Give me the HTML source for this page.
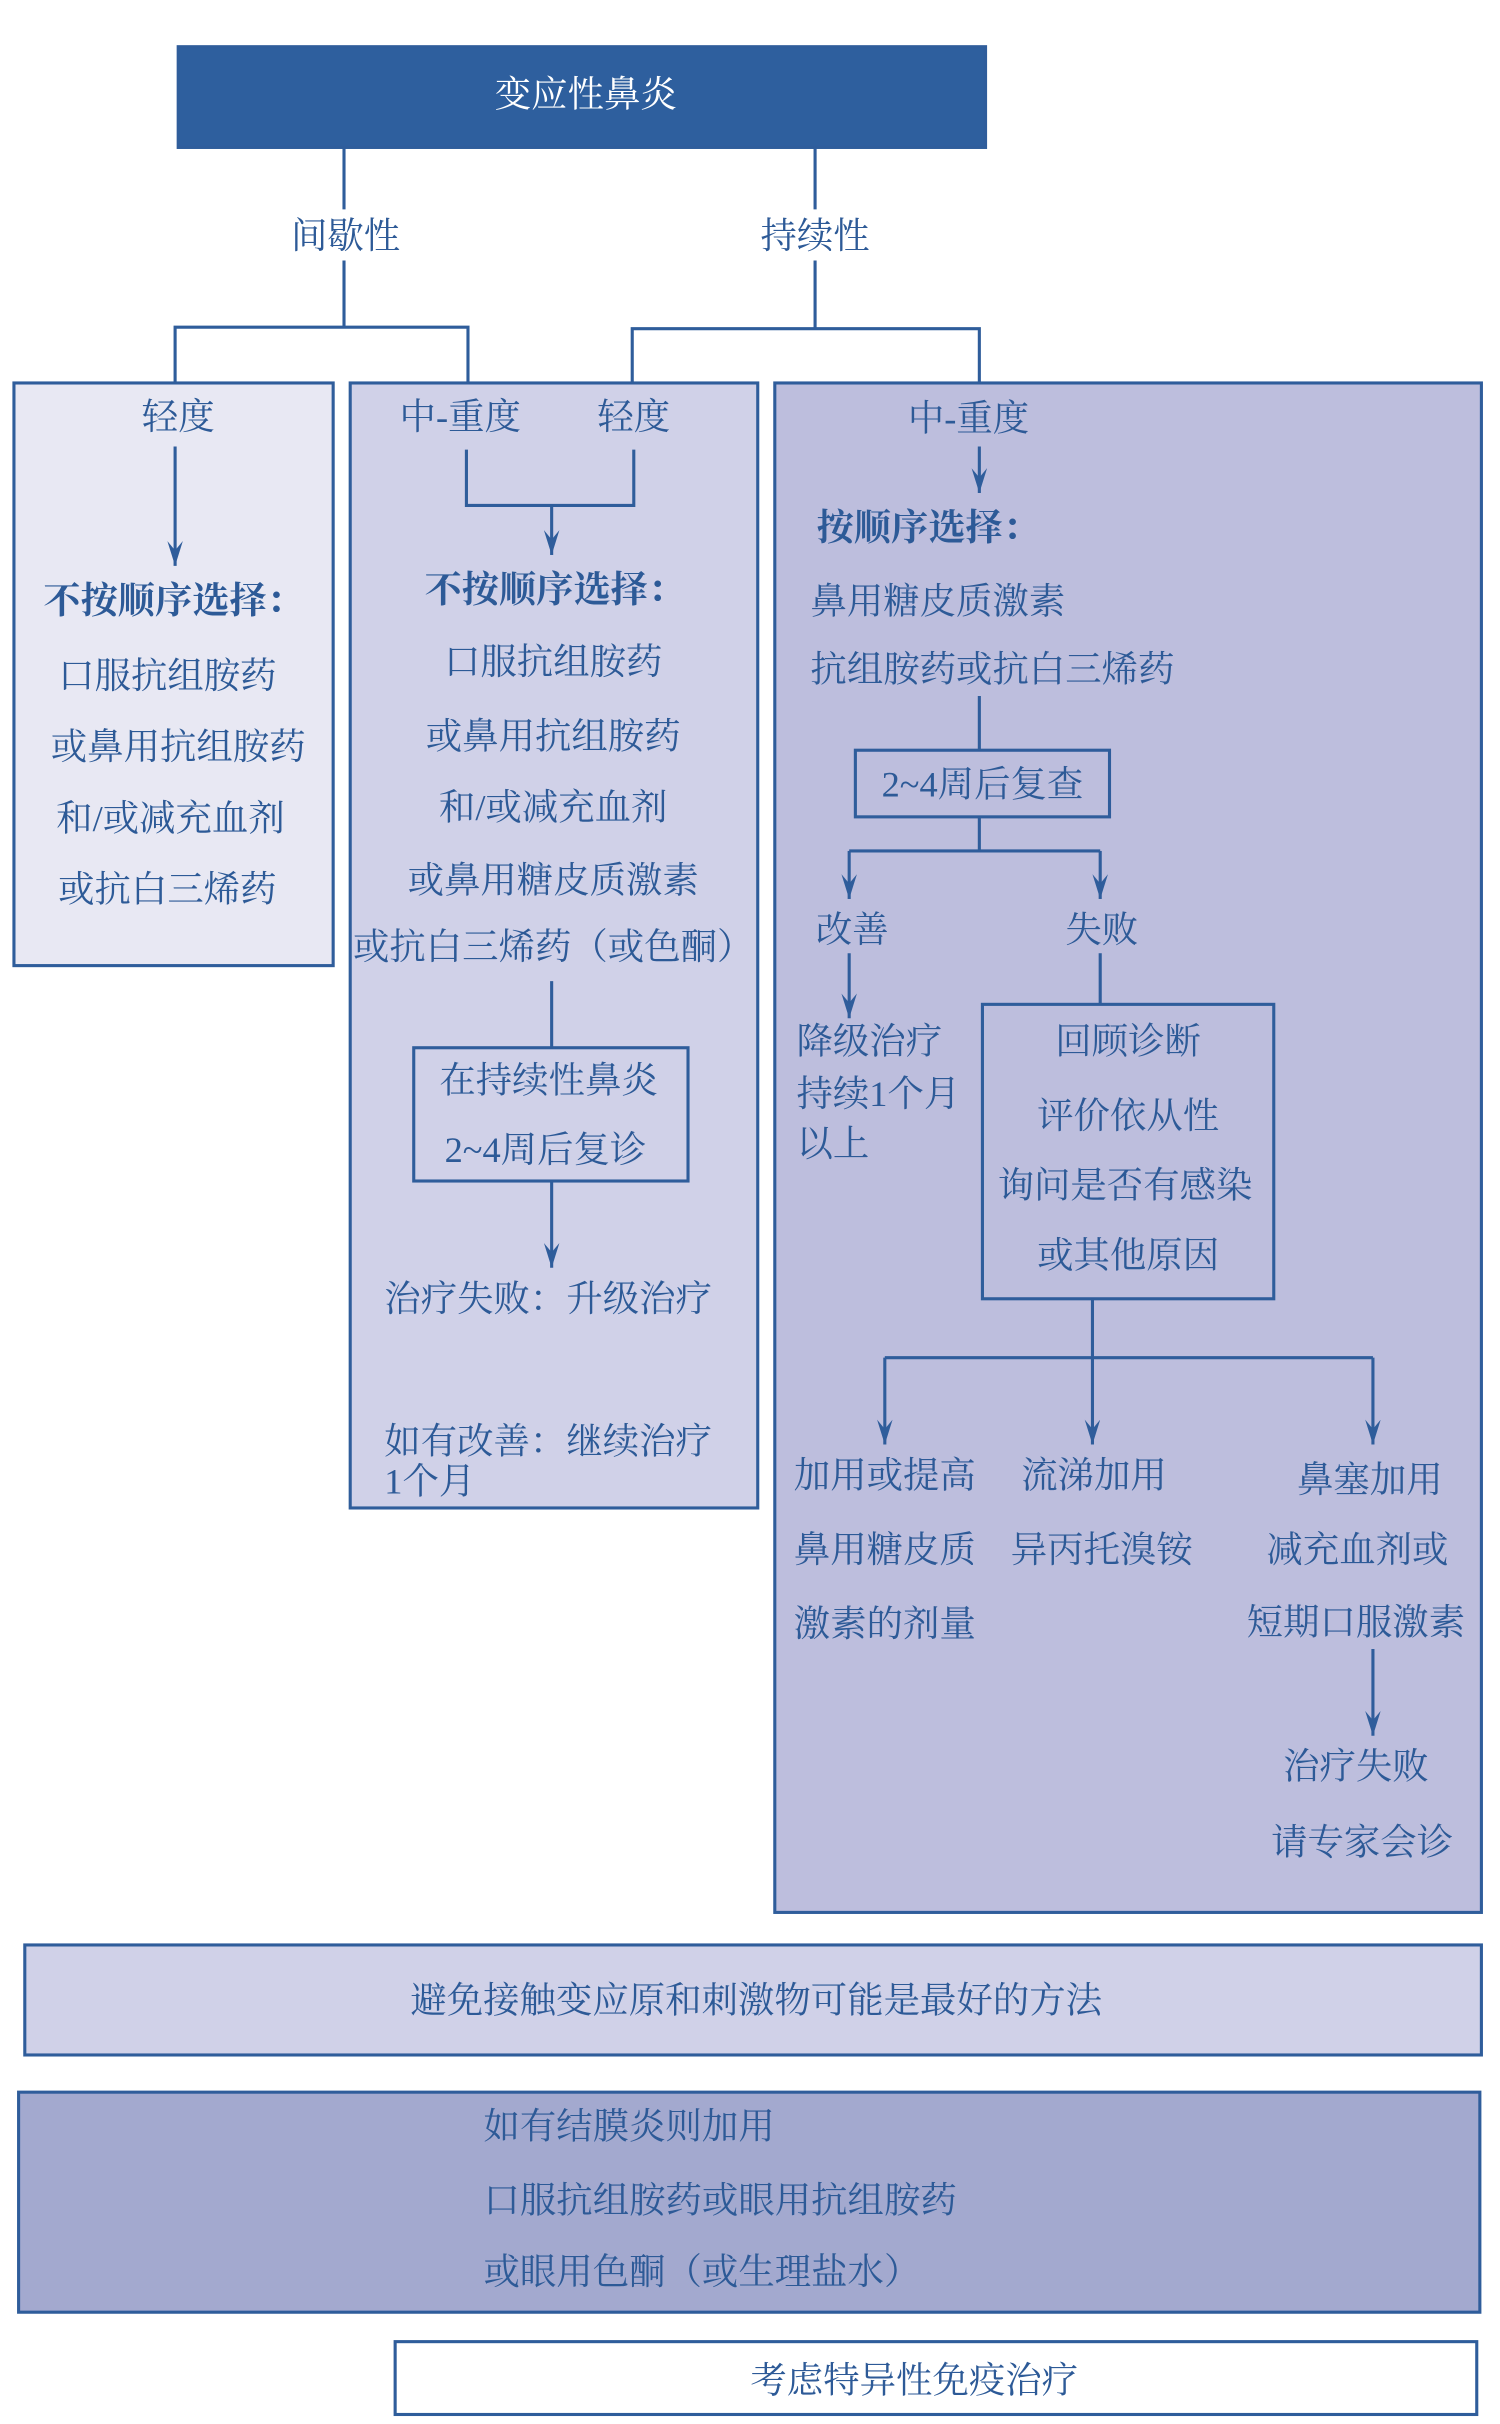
<!DOCTYPE html>
<html><head><meta charset="utf-8"><style>
html,body{margin:0;padding:0;background:#fff;}
svg{display:block;}
text{font-family:"Liberation Serif","Noto Serif CJK SC","Noto Sans CJK SC",serif;fill:#2d5a97;font-size:23.5px;dominant-baseline:central;}
.c{text-anchor:middle;}
.b{font-weight:bold;font-size:24px;}
</style></head><body>
<svg width="1500" height="2424" viewBox="0 0 968 1564" xmlns="http://www.w3.org/2000/svg">
<defs>
<marker id="d" markerWidth="10" markerHeight="16" refX="5" refY="16" markerUnits="userSpaceOnUse"><path d="M0,0 L5,16 L10,0 L5,6 Z" fill="#2f5d9b"/></marker></defs>
<g stroke="#2f5d9b" stroke-width="2" fill="none">
<rect x="115" y="30" width="521" height="65" fill="#2e5f9e"/>
<rect x="9" y="247" width="206" height="376" fill="#e8e8f3"/>
<rect x="226" y="247" width="263" height="726" fill="#d0d1e8"/>
<rect x="500" y="247" width="456" height="987" fill="#bdbedd"/>
<rect x="16" y="1255" width="940" height="71" fill="#d0d1e8"/>
<rect x="12" y="1350" width="943" height="142" fill="#a3a9cf"/>
<rect x="255" y="1511" width="698" height="47" fill="#fff"/>
<rect x="267" y="676" width="177" height="86"/>
<rect x="552" y="484" width="164" height="43"/>
<rect x="634" y="648" width="188" height="190"/>
<path d="M222 95V135M222 168V211M113 247V211H302V247"/>
<path d="M526 95V135M526 168V211M408 247V212H632V247"/>
<path d="M113 288V365" marker-end="url(#d)"/>
<path d="M301 290V326H409V290"/>
<path d="M356 326V358" marker-end="url(#d)"/>
<path d="M356 633V676"/>
<path d="M356 762V818" marker-end="url(#d)"/>
<path d="M632 288V318" marker-end="url(#d)"/>
<path d="M632 449V484M632 527V549M548 549H710"/>
<path d="M548 549V580" marker-end="url(#d)"/>
<path d="M710 549V580" marker-end="url(#d)"/>
<path d="M548 615V657" marker-end="url(#d)"/>
<path d="M710 615V648"/>
<path d="M705 838V876M571 876H886"/>
<path d="M571 876V932" marker-end="url(#d)"/>
<path d="M705 876V932" marker-end="url(#d)"/>
<path d="M886 876V932" marker-end="url(#d)"/>
<path d="M886 1064V1120" marker-end="url(#d)"/>
</g>
<text class="c" x="378" y="61" style="fill:#fff">变应性鼻炎</text>
<text class="c" x="223" y="152">间歇性</text>
<text class="c" x="526" y="152">持续性</text>
<text class="c" x="115" y="269">轻度</text>
<text class="c b" x="112" y="388">不按顺序选择：</text>
<text class="c" x="108" y="436">口服抗组胺药</text>
<text class="c" x="115" y="482">或鼻用抗组胺药</text>
<text class="c" x="110" y="528">和/或减充血剂</text>
<text class="c" x="108" y="574">或抗白三烯药</text>
<text class="c" x="297" y="269">中-重度</text>
<text class="c" x="409" y="269">轻度</text>
<text class="c b" x="358" y="381">不按顺序选择：</text>
<text class="c" x="357" y="427">口服抗组胺药</text>
<text class="c" x="357" y="475">或鼻用抗组胺药</text>
<text class="c" x="357" y="521">和/或减充血剂</text>
<text class="c" x="357" y="568">或鼻用糖皮质激素</text>
<text class="c" x="357" y="611">或抗白三烯药（或色酮）</text>
<text class="c" x="354" y="697">在持续性鼻炎</text>
<text class="c" x="352" y="742">2~4周后复诊</text>
<text x="248" y="838">治疗失败：升级治疗</text>
<text x="248" y="930">如有改善：继续治疗</text>
<text x="248" y="956">1个月</text>
<text class="c" x="625" y="270">中-重度</text>
<text class="b" x="527" y="341">按顺序选择：</text>
<text x="523" y="388">鼻用糖皮质激素</text>
<text x="523" y="432">抗组胺药或抗白三烯药</text>
<text class="c" x="634" y="506">2~4周后复查</text>
<text class="c" x="550" y="600">改善</text>
<text class="c" x="711" y="600">失败</text>
<text x="514" y="672">降级治疗</text>
<text x="514" y="706">持续1个月</text>
<text x="514" y="738">以上</text>
<text class="c" x="728" y="672">回顾诊断</text>
<text class="c" x="728" y="720">评价依从性</text>
<text class="c" x="726" y="765">询问是否有感染</text>
<text class="c" x="728" y="810">或其他原因</text>
<text class="c" x="571" y="952">加用或提高</text>
<text class="c" x="571" y="1000">鼻用糖皮质</text>
<text class="c" x="571" y="1048">激素的剂量</text>
<text class="c" x="706" y="952">流涕加用</text>
<text class="c" x="711" y="1000">异丙托溴铵</text>
<text class="c" x="884" y="955">鼻塞加用</text>
<text class="c" x="876" y="1000">减充血剂或</text>
<text class="c" x="875" y="1047">短期口服激素</text>
<text class="c" x="875" y="1140">治疗失败</text>
<text class="c" x="879" y="1189">请专家会诊</text>
<text class="c" x="488" y="1291">避免接触变应原和刺激物可能是最好的方法</text>
<text x="312" y="1372">如有结膜炎则加用</text>
<text x="312" y="1420">口服抗组胺药或眼用抗组胺药</text>
<text x="312" y="1466">或眼用色酮（或生理盐水）</text>
<text class="c" x="590" y="1536">考虑特异性免疫治疗</text>
</svg>
</body></html>
